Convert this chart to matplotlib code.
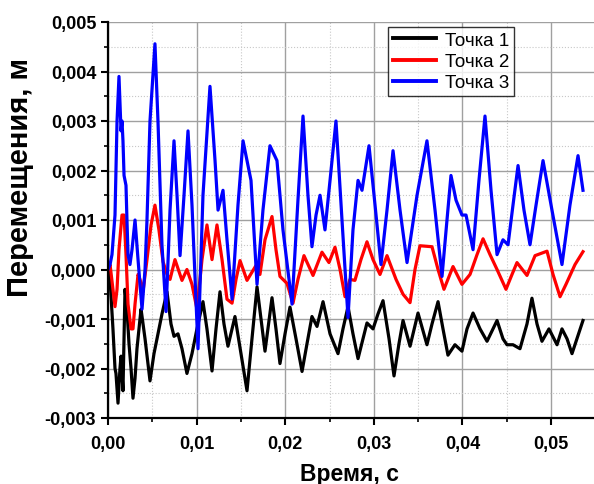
import matplotlib
matplotlib.use('Agg')
import matplotlib.pyplot as plt
from matplotlib.ticker import MultipleLocator, FuncFormatter
import numpy as np

plt.rcParams['font.family'] = ['Liberation Sans', 'DejaVu Sans']

# время в единицах 0,01 с, перемещение в м
# Точка 1
t1 = [0.000, 0.023, 0.056, 0.079, 0.090, 0.113, 0.135, 0.147, 0.169, 0.192,
      0.214, 0.237, 0.260, 0.282, 0.305, 0.327, 0.361, 0.373, 0.418, 0.474,
      0.519, 0.553, 0.609, 0.666, 0.711, 0.745, 0.790, 0.835, 0.891, 0.948,
      1.004, 1.072, 1.117, 1.174, 1.219, 1.264, 1.309, 1.354, 1.433, 1.501,
      1.569, 1.625, 1.682, 1.727, 1.772, 1.851, 1.896, 1.941, 1.998, 2.054,
      2.122, 2.190, 2.246, 2.302, 2.359, 2.427, 2.506, 2.596, 2.652, 2.709,
      2.765, 2.822, 2.878, 2.923, 2.991, 3.047, 3.104, 3.172, 3.228, 3.284,
      3.330, 3.409, 3.499, 3.600, 3.657, 3.725, 3.781, 3.837, 3.916, 3.995,
      4.052, 4.120, 4.199, 4.278, 4.391, 4.458, 4.503, 4.571, 4.650, 4.729,
      4.785, 4.842, 4.898, 4.977, 5.068, 5.124, 5.181, 5.237, 5.361]
y1 = [0.0, -0.0002, -0.0012, -0.0020, -0.0021, -0.0027, -0.0020, -0.00175, -0.00245, -0.00040,
      -0.0008, -0.0015, -0.0020, -0.0026, -0.0022, -0.0016, -0.0010, -0.0008, -0.0014, -0.00225,
      -0.0017, -0.0014, -0.0009, -0.00045, -0.0011, -0.00135, -0.0013, -0.0016, -0.0021, -0.0017,
      -0.0012, -0.00065, -0.0012, -0.00205, -0.0012, -0.00045, -0.0011, -0.00155, -0.00095, -0.0017,
      -0.00245, -0.0014, -0.00035, -0.0010, -0.00165, -0.00057, -0.0012, -0.0019, -0.0013, -0.00076,
      -0.0014, -0.00206, -0.0015, -0.00095, -0.00115, -0.00065, -0.0013, -0.0017, -0.0012, -0.00075,
      -0.0013, -0.0018, -0.0014, -0.00108, -0.0012, -0.0009, -0.00063, -0.0014, -0.00215, -0.0015,
      -0.00103, -0.00155, -0.00088, -0.00152, -0.0011, -0.00065, -0.0012, -0.00173, -0.00152, -0.00165,
      -0.0012, -0.00088, -0.0012, -0.00145, -0.00103, -0.0014, -0.00152, -0.00152, -0.0016, -0.0011,
      -0.00058, -0.0011, -0.00145, -0.0012, -0.00152, -0.0012, -0.0014, -0.0017, -0.00103]

# Точка 2
t2 = [0.000, 0.023, 0.056, 0.079, 0.102, 0.124, 0.158, 0.181, 0.203, 0.226,
      0.260, 0.282, 0.305, 0.339, 0.361, 0.395, 0.440, 0.486, 0.530, 0.575,
      0.621, 0.666, 0.700, 0.756, 0.835, 0.891, 0.948, 1.004, 1.061, 1.117,
      1.174, 1.230, 1.287, 1.343, 1.400, 1.445, 1.490, 1.569, 1.670, 1.715,
      1.772, 1.851, 1.896, 1.941, 2.020, 2.088, 2.144, 2.212, 2.314, 2.415,
      2.494, 2.562, 2.619, 2.675, 2.731, 2.787, 2.855, 2.923, 2.991, 3.070,
      3.149, 3.251, 3.330, 3.409, 3.465, 3.521, 3.657, 3.725, 3.792, 3.894,
      3.995, 4.086, 4.165, 4.233, 4.312, 4.391, 4.492, 4.560, 4.616, 4.729,
      4.820, 4.955, 5.023, 5.102, 5.169, 5.271, 5.361]
y2 = [0.0, 0.0001, -0.0004, -0.00075, -0.0004, 0.0004, 0.0011, 0.0011, 0.0003, -0.0007,
      -0.0012, -0.0012, -0.0007, -0.0001, -0.0002, -0.00045, 0.0002, 0.0009, 0.0013, 0.0008,
      0.00016, -0.0001, -0.0002, 0.0002, -0.00022, 0.0000, -0.0003, -0.0008, 0.0002, 0.0009,
      0.0002, 0.0009, 0.0002, -0.0006, -0.00068, -0.0002, 0.00018, -0.00022, 0.00008, -0.0001,
      0.0006, 0.00107, 0.0004, -0.00014, -0.00028, -0.00068, -0.0002, 0.00028, -0.00012, 0.00035,
      0.00014, 0.00045, 0.0000, -0.00055, -0.0002, -0.00022, 0.0002, 0.00056, 0.0002, -0.0001,
      0.00028, -0.0002, -0.0005, -0.00067, 0.0000, 0.00048, 0.00046, 0.0000, -0.0004, 0.00006,
      -0.0003, -0.0001, 0.0003, 0.00062, 0.0003, 0.0000, -0.0004, -0.0001, 0.00014, -0.00012,
      0.00028, 0.00037, -0.0001, -0.00055, -0.0003, 0.0001, 0.00036]

# Точка 3
t3 = [0.000, 0.023, 0.045, 0.079, 0.102, 0.124, 0.147, 0.158, 0.169, 0.181,
      0.203, 0.214, 0.226, 0.248, 0.271, 0.305, 0.339, 0.384, 0.418, 0.440,
      0.474, 0.530, 0.564, 0.609, 0.655, 0.700, 0.745, 0.779, 0.813, 0.858,
      0.903, 0.948, 1.016, 1.072, 1.151, 1.208, 1.242, 1.298, 1.343, 1.400,
      1.467, 1.524, 1.614, 1.682, 1.749, 1.828, 1.907, 1.975, 2.077, 2.144,
      2.201, 2.257, 2.302, 2.348, 2.393, 2.449, 2.506, 2.573, 2.641, 2.709,
      2.765, 2.822, 2.867, 2.946, 3.014, 3.081, 3.149, 3.217, 3.296, 3.375,
      3.488, 3.600, 3.691, 3.770, 3.826, 3.871, 3.928, 3.995, 4.041, 4.120,
      4.187, 4.255, 4.323, 4.391, 4.458, 4.515, 4.571, 4.628, 4.695, 4.763,
      4.831, 4.910, 5.011, 5.124, 5.214, 5.305, 5.361]
y3 = [0.0, 0.0001, 0.0003, 0.0011, 0.0030, 0.0039, 0.0028, 0.0030, 0.0026, 0.0019,
      0.0017, 0.0010, 0.0003, 0.0001, 0.0004, 0.0010, 0.0002, -0.0008, 0.0000, 0.0010,
      0.0030, 0.00456, 0.0030, 0.0005, -0.00085, 0.0012, 0.0026, 0.0015, 0.00028, 0.0015,
      0.0028, 0.0013, -0.0016, 0.0015, 0.0037, 0.0022, 0.0012, 0.0016, 0.0006, -0.0006,
      0.0013, 0.0026, 0.0018, -0.0003, 0.0012, 0.0025, 0.0022, 0.0008, -0.0007, 0.0014,
      0.0031, 0.0015, 0.00046, 0.0011, 0.0015, 0.0008, 0.0018, 0.0030, 0.0010, -0.00097,
      0.0008, 0.0018, 0.0016, 0.0025, 0.0013, 0.0001, 0.0012, 0.0024, 0.0012, 0.00014,
      0.0015, 0.0026, 0.0012, -0.00014, 0.0010, 0.0019, 0.0014, 0.0011, 0.0011, 0.0004,
      0.0018, 0.0031, 0.0016, 0.0003, 0.0006, 0.0005, 0.0013, 0.0021, 0.0012, 0.0005,
      0.0013, 0.0022, 0.0012, 0.0001, 0.0013, 0.0023, 0.0016]

series = [(t1, y1, 'black', 'Точка 1'),
          (t2, y2, 'red', 'Точка 2'),
          (t3, y3, 'blue', 'Точка 3')]

fig = plt.figure(figsize=(5.94, 4.85), dpi=100)
ax = fig.add_axes([108 / 594, 1 - 419 / 485, 1 - 108 / 594, (419 - 23) / 485])

for t, y, color, label in series:
    ax.plot(np.array(t) / 100.0, y, color=color, lw=2.3, label=label,
            solid_joinstyle='round')

ax.set_xlim(0, (594 - 108) / 8860)
ax.set_ylim(-0.003, 0.005)

ax.xaxis.set_major_locator(MultipleLocator(0.01))
ax.xaxis.set_minor_locator(MultipleLocator(0.005))
ax.yaxis.set_major_locator(MultipleLocator(0.001))
ax.yaxis.set_minor_locator(MultipleLocator(0.0005))
ax.xaxis.set_major_formatter(FuncFormatter(lambda v, p: f'{v:.2f}'.replace('.', ',')))
ax.yaxis.set_major_formatter(FuncFormatter(lambda v, p: f'{v:.3f}'.replace('.', ',').replace('-0,000', '0,000')))

ax.grid(which='major', color='#a0a0a0', lw=1.0, ls='-')
ax.grid(which='minor', color='#c8c8c8', lw=0.8, ls=':')
ax.set_axisbelow(True)

for s in ['top', 'right']:
    ax.spines[s].set_visible(False)
for s in ['left', 'bottom']:
    ax.spines[s].set_linewidth(1.6)

ax.tick_params(which='major', direction='out', length=5, width=1.5, labelsize=13)
ax.tick_params(axis='x', which='major', pad=7)
ax.tick_params(which='minor', direction='out', length=3, width=1.2)
for lab in ax.get_xticklabels() + ax.get_yticklabels():
    lab.set_fontweight('bold')

ax.set_xlabel('Время, с', fontsize=16.5, fontweight='bold')
ax.xaxis.set_label_coords(0.496, -0.112)
ax.set_ylabel('Перемещения, м', fontsize=21, fontweight='bold')
ax.yaxis.set_label_coords(-0.152, 0.61)

leg = fig.legend(loc='upper left', bbox_to_anchor=(388 / 594, 1 - 28 / 485),
                 fontsize=13.5, frameon=True, fancybox=False, handlelength=2.3,
                 borderpad=0.25, labelspacing=0.22, handletextpad=0.5, borderaxespad=0)
leg.get_frame().set_edgecolor('black')
leg.get_frame().set_linewidth(1.0)
for line in leg.get_lines():
    line.set_linewidth(2.8)

fig.savefig('out.png', dpi=100)
